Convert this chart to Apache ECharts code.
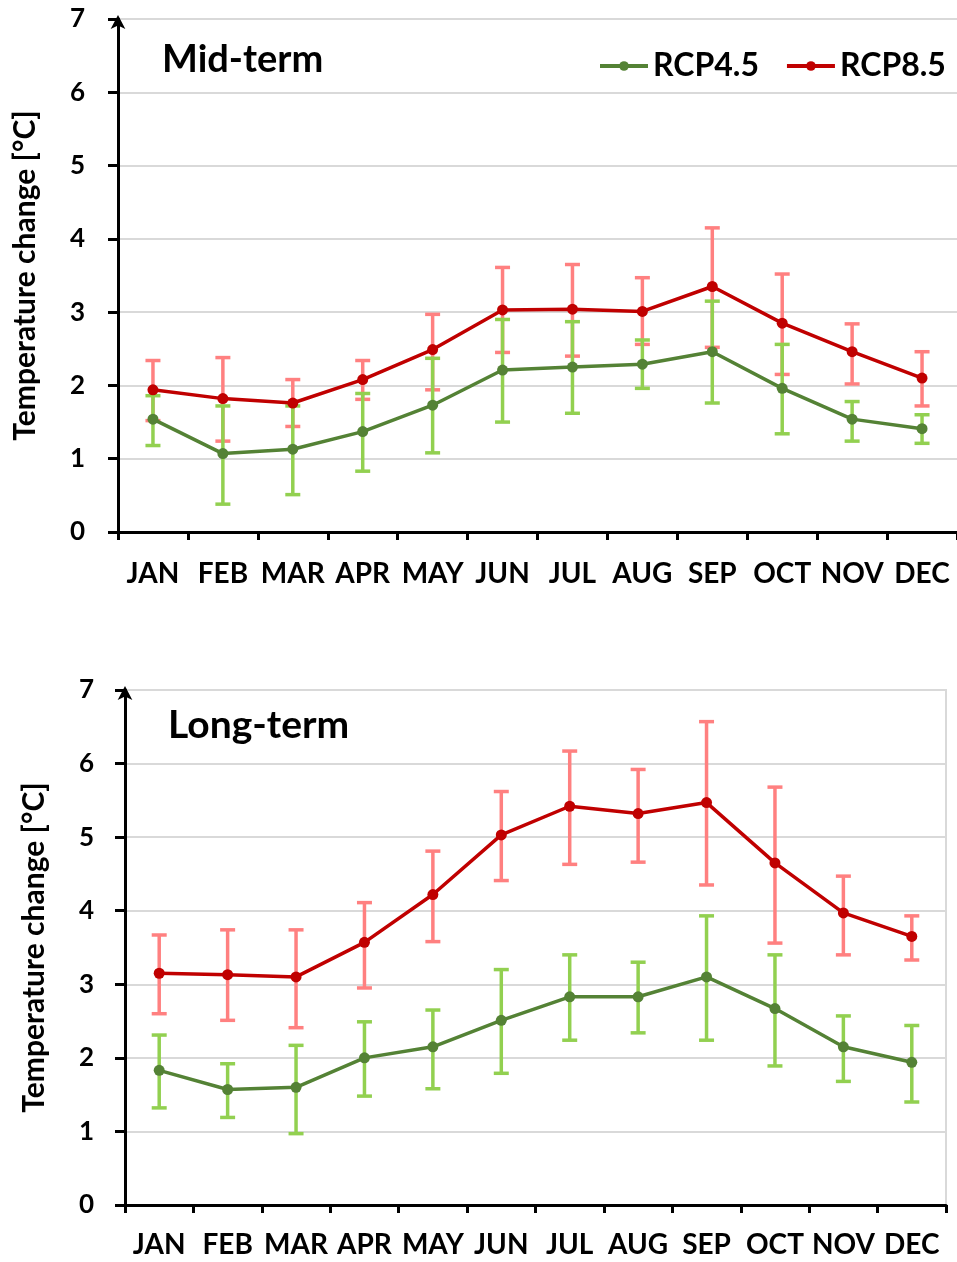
<!DOCTYPE html>
<html><head><meta charset="utf-8">
<script src="https://cdn.jsdelivr.net/npm/echarts@6/dist/echarts.min.js"></script>
<style>html,body{margin:0;padding:0;background:#fff}#c{width:957px;height:1262px}</style>
</head><body><div id="c"></div>
<script>
const months = ['JAN','FEB','MAR','APR','MAY','JUN','JUL','AUG','SEP','OCT','NOV','DEC'];
const yTicks = [0,1,2,3,4,5,6,7];

// Mid-term
const mid45    = [1.54,1.07,1.13,1.37,1.73,2.21,2.25,2.29,2.46,1.96,1.54,1.41];
const mid45Lo  = [1.18,0.38,0.51,0.83,1.08,1.50,1.62,1.96,1.76,1.34,1.24,1.21];
const mid45Hi  = [1.86,1.72,1.72,1.89,2.37,2.90,2.87,2.62,3.15,2.56,1.78,1.60];
const mid85    = [1.94,1.82,1.76,2.08,2.49,3.03,3.04,3.01,3.35,2.85,2.46,2.10];
const mid85Lo  = [1.52,1.24,1.44,1.81,1.94,2.45,2.40,2.56,2.52,2.15,2.02,1.72];
const mid85Hi  = [2.34,2.38,2.08,2.34,2.97,3.61,3.65,3.47,4.15,3.52,2.84,2.46];

// Long-term
const long45   = [1.83,1.57,1.60,2.00,2.15,2.51,2.83,2.83,3.10,2.67,2.15,1.94];
const long45Lo = [1.32,1.19,0.97,1.48,1.58,1.79,2.24,2.34,2.24,1.89,1.68,1.40];
const long45Hi = [2.31,1.92,2.17,2.49,2.65,3.20,3.40,3.30,3.93,3.40,2.57,2.44];
const long85   = [3.15,3.13,3.10,3.57,4.22,5.03,5.42,5.32,5.47,4.65,3.97,3.65];
const long85Lo = [2.60,2.51,2.41,2.95,3.58,4.41,4.63,4.66,4.35,3.56,3.40,3.33];
const long85Hi = [3.67,3.74,3.74,4.11,4.81,5.62,6.17,5.92,6.57,5.68,4.47,3.93];

const FONT = 'Lato';
const GREEN = '#548235', GREEN_ERR = '#92D050', RED = '#C00000', RED_ERR = '#FF8080';

function errData(lo, hi){ return lo.map((v,i)=>[i, v, hi[i]]); }
function errRender(color){
  return function(params, api){
    const x = api.value(0);
    const a = api.coord([x, api.value(2)]);
    const b = api.coord([x, api.value(1)]);
    const w = 7.5;
    const st = {stroke: color, lineWidth: 3.5};
    return {type:'group', children:[
      {type:'line', shape:{x1:a[0], y1:a[1], x2:b[0], y2:b[1]}, style:st},
      {type:'line', shape:{x1:a[0]-w, y1:a[1], x2:a[0]+w, y2:a[1]}, style:st},
      {type:'line', shape:{x1:b[0]-w, y1:b[1], x2:b[0]+w, y2:b[1]}, style:st}
    ]};
  };
}
function xAxis(idx, margin){
  return {type:'category', gridIndex:idx, data:months, boundaryGap:true,
    axisLine:{lineStyle:{color:'#000', width:3}},
    axisTick:{show:true, interval:0, length:8, lineStyle:{color:'#000', width:3}},
    axisLabel:{interval:0, color:'#000', fontFamily:FONT, fontWeight:'bold', fontSize:28, margin:margin},
    splitLine:{show:false}};
}
function yAxis(idx, margin, gap){
  return {type:'value', gridIndex:idx, min:0, max:7, interval:1,
    name:'Temperature change [°C]', nameLocation:'middle', nameGap:gap,
    nameTextStyle:{color:'#000', fontFamily:FONT, fontWeight:'bold', fontSize:30},
    axisLine:{show:true, symbol:['none','arrow'], symbolSize:[11,14], symbolOffset:[0,4], lineStyle:{color:'#000', width:3}},
    axisTick:{show:true, length:10, lineStyle:{color:'#000', width:3}},
    axisLabel:{color:'#000', fontFamily:FONT, fontWeight:'bold', fontSize:26, margin:margin,
      formatter: v => String(yTicks[v] !== undefined ? yTicks[v] : v)},
    splitLine:{show:true, lineStyle:{color:'#D9D9D9', width:2}}};
}
function lineSeries(name, data, color, idx){
  return {type:'line', name:name, data:data, xAxisIndex:idx, yAxisIndex:idx,
    symbol:'circle', symbolSize:11, z:5,
    lineStyle:{color:color, width:3.5}, itemStyle:{color:color}};
}
function errSeries(name, lo, hi, color, idx){
  return {type:'custom', name:name, data:errData(lo,hi), xAxisIndex:idx, yAxisIndex:idx,
    renderItem: errRender(color), z:3, encode:{x:0, y:[1,2]}};
}

const chart = echarts.init(document.getElementById('c'), null, {renderer:'canvas'});
chart.setOption({
  animation:false,
  backgroundColor:'#fff',
  title:[
    {text:'Mid-term', left:157, top:36, textStyle:{fontFamily:FONT, fontWeight:'bold', fontSize:38, color:'#000'}},
    {text:'Long-term', left:163, top:701, textStyle:{fontFamily:FONT, fontWeight:'bold', fontSize:39, color:'#000'}}
  ],
  legend:{data:['RCP4.5','RCP8.5'], left:593, top:45, itemWidth:48, itemHeight:12, itemGap:26,
    lineStyle:{width:4},
    textStyle:{fontFamily:FONT, fontWeight:'bold', fontSize:32, color:'#000'}},
  grid:[
    {left:118, top:19, width:839, height:513},
    {left:125, top:690, width:821, height:515, show:true, borderColor:'#D9D9D9', borderWidth:2}
  ],
  xAxis:[xAxis(0, 28), xAxis(1, 26)],
  yAxis:[yAxis(0, 33, 78), yAxis(1, 31, 76)],
  series:[
    errSeries('e85m', mid85Lo, mid85Hi, RED_ERR, 0),
    errSeries('e45m', mid45Lo, mid45Hi, GREEN_ERR, 0),
    lineSeries('RCP4.5', mid45, GREEN, 0),
    lineSeries('RCP8.5', mid85, RED, 0),
    errSeries('e85l', long85Lo, long85Hi, RED_ERR, 1),
    errSeries('e45l', long45Lo, long45Hi, GREEN_ERR, 1),
    lineSeries('RCP4.5', long45, GREEN, 1),
    lineSeries('RCP8.5', long85, RED, 1)
  ]
});
</script></body></html>
